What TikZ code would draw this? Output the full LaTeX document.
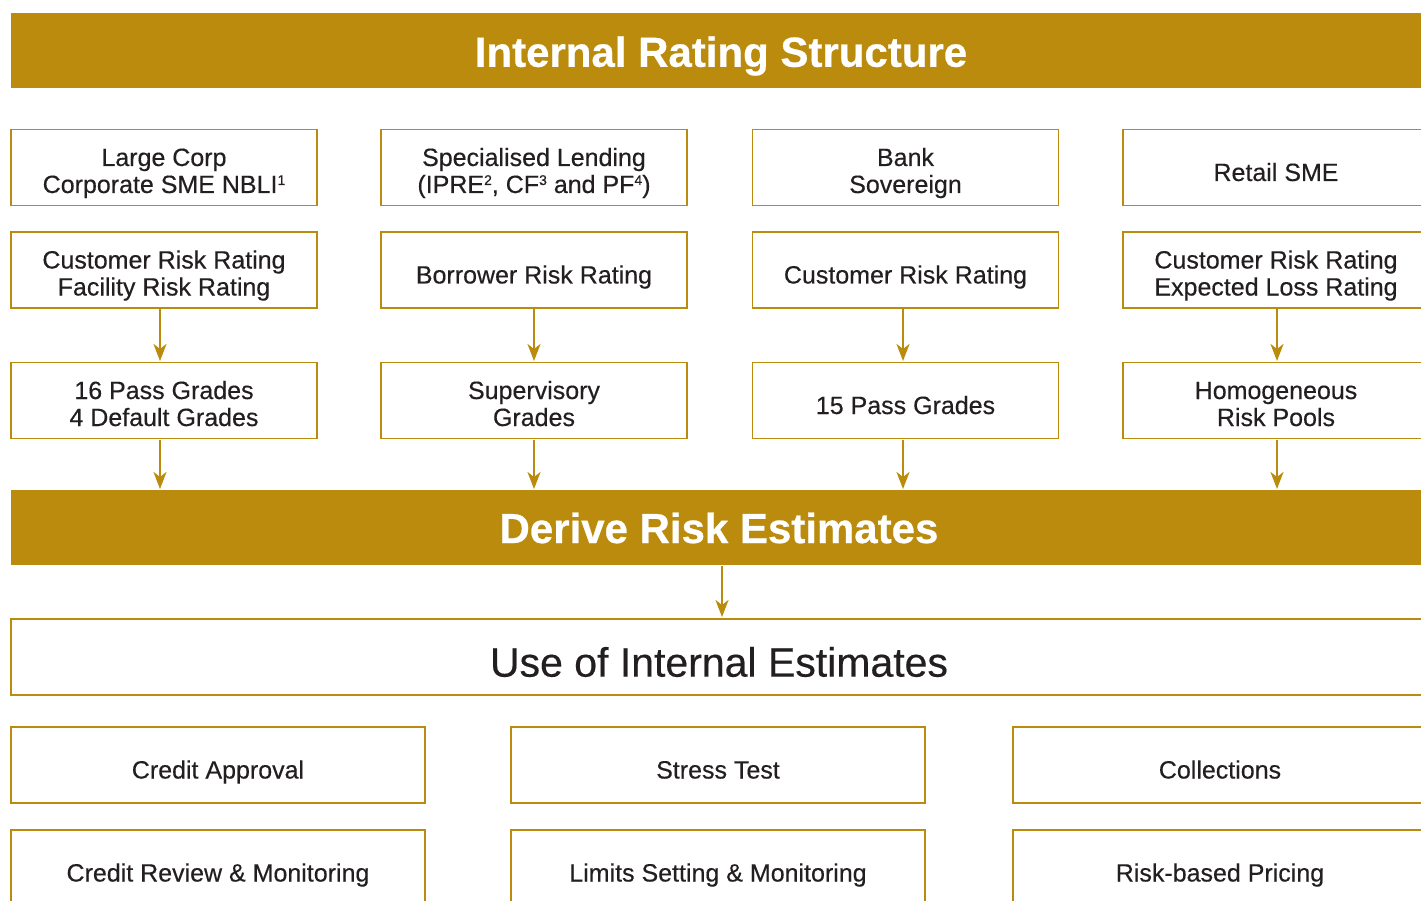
\documentclass[tikz,border=0pt]{standalone}
\usepackage{fontspec}
\setmainfont{Liberation Sans}
\newfontfamily\medfont{Liberation Sans}[FakeBold=0.35]
\newfontfamily\heavyfont{Liberation Sans Bold}[FakeBold=0.6]
\usetikzlibrary{arrows.meta}
\definecolor{gold}{RGB}{186,139,12}
\definecolor{txt}{RGB}{35,31,32}
\newcommand{\supn}[1]{{\fontsize{14}{14}\selectfont\raisebox{8pt}{#1}}}
\newcommand{\twol}[2]{\rule{0pt}{32pt}#1\\#2\rule[-8pt]{0pt}{8pt}}
\tikzset{
  banner/.style={fill=gold, draw=none, text=white, font=\heavyfont\fontsize{42}{46}\selectfont, inner sep=0pt},
  box/.style={draw=gold, line width=1.5pt, fill=white, text=txt, align=center, inner sep=0pt,
    font=\medfont\fontsize{25}{27}\selectfont},
  one/.style={execute at begin node={\rule{0pt}{35pt}},
    execute at end node={\rule[-8pt]{0pt}{8pt}}},
  smallbox/.style={box, minimum width=306pt, minimum height=76pt},
  widebox/.style={box, one, minimum width=414pt, minimum height=76pt},
  flow/.style={draw=gold, line width=2.5pt, -{Stealth[length=17pt,width=13pt,inset=5pt]}}
}
\begin{document}
\begin{tikzpicture}[x=1pt,y=-1pt]
\useasboundingbox (0,0) rectangle (1421,901);
% banners
\fill[gold] (11,13) rectangle (1430,88);
\node[banner] (t1) at (721,56) {Internal Rating Structure};
\fill[gold] (11,490) rectangle (1430,565);
\node[banner] (t2) at (719,528) {Derive Risk Estimates};
% row 1
\node[smallbox] (a1) at (164,167.5) {\twol{Large Corp}{Corporate SME NBLI\supn{1}}};
\node[smallbox] (b1) at (534,167.5) {\twol{Specialised Lending}{(IPRE\supn{2}, CF\supn{3} and PF\supn{4})}};
\node[smallbox] (c1) at (905.5,167.5) {\twol{Bank}{Sovereign}};
\node[smallbox, one] (d1) at (1276,167.5) {Retail SME};
% row 2
\node[smallbox] (a2) at (164,270) {\twol{Customer Risk Rating}{Facility Risk Rating}};
\node[smallbox, one] (b2) at (534,270) {Borrower Risk Rating};
\node[smallbox, one] (c2) at (905.5,270) {Customer Risk Rating};
\node[smallbox] (d2) at (1276,270) {\twol{Customer Risk Rating}{Expected Loss Rating}};
% row 3
\node[smallbox] (a3) at (164,400.5) {\twol{16 Pass Grades}{4 Default Grades}};
\node[smallbox] (b3) at (534,400.5) {\twol{Supervisory}{Grades}};
\node[smallbox, one] (c3) at (905.5,400.5) {15 Pass Grades};
\node[smallbox] (d3) at (1276,400.5) {\twol{Homogeneous}{Risk Pools}};
% arrows row2 -> row3
\draw[flow] (160,309) -- (160,361);
\draw[flow] (534,309) -- (534,361);
\draw[flow] (903,309) -- (903,361);
\draw[flow] (1277,309) -- (1277,361);
% arrows row3 -> banner
\draw[flow] (160,440) -- (160,489);
\draw[flow] (534,440) -- (534,489);
\draw[flow] (903,440) -- (903,489);
\draw[flow] (1277,440) -- (1277,489);
% use box
\draw[gold, line width=1.5pt] (11,619) rectangle (1440,695);
\node[text=txt, font=\medfont\fontsize{41}{45}\selectfont, inner sep=0pt] (ut) at (719,662) {Use of Internal Estimates};
\draw[flow] (722,566) -- (722,617);
% bottom rows
\node[widebox] (e1) at (218,765) {Credit Approval};
\node[widebox] (f1) at (718,765) {Stress Test};
\node[widebox] (g1) at (1220,765) {Collections};
\node[widebox] (e2) at (218,868) {Credit Review \& Monitoring};
\node[widebox] (f2) at (718,868) {Limits Setting \& Monitoring};
\node[widebox] (g2) at (1220,868) {Risk-based Pricing};
\end{tikzpicture}
\end{document}
